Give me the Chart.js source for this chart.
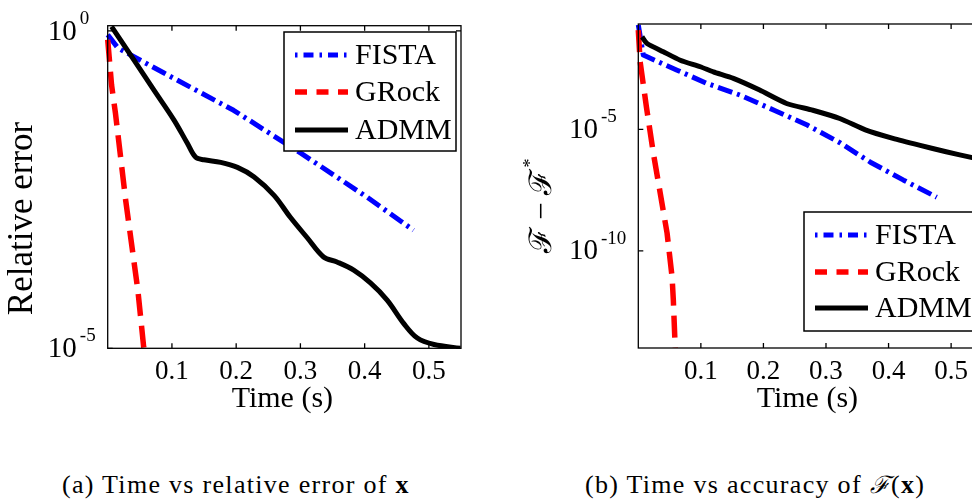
<!DOCTYPE html>
<html>
<head>
<meta charset="utf-8">
<script src="https://cdn.jsdelivr.net/npm/chart.js@4.4.0/dist/chart.umd.min.js"></script>
<style>
  html, body { margin: 0; padding: 0; background: #fff; width: 972px; height: 500px; overflow: hidden; position: relative; }
  #chartA { position: absolute; left: 0; top: 0; }
  #chartB { position: absolute; left: 500px; top: 0; }
  .cap { position: absolute; top: 470px; height: 30px; line-height: 30px; font: 26px 'Liberation Serif', 'DejaVu Serif', serif;
    letter-spacing: 1.3px; white-space: nowrap; color: #000; }
  .cap i { font-size: 24px; line-height: 30px; }
</style>
</head>
<body>
<canvas id="chartA" width="480" height="420"></canvas>
<canvas id="chartB" width="500" height="420"></canvas>
<div class="cap" style="left:62px">(a) Time vs relative error of <b>x</b></div>
<div class="cap" style="left:585px">(b) Time vs accuracy of <i>ℱ</i>(<b>x</b>)</div>
<script>
// series names + tick values
const seriesNames = ["FISTA", "GRock", "ADMM"];
const xTicks = [0.1, 0.2, 0.3, 0.4, 0.5];
const yTicksA = [1e0, 1e-5];
const yTicksB = [1e-5, 1e-10];

// (a) time vs relative error of x
const fistaTimeA = [0, 0.016, 0.087, 0.196, 0.30, 0.404, 0.476];
const fistaErrA = [0.871, 0.537, 0.219, 0.0562, 0.0120, 0.0024, 0.000724];
const grockTimeA = [0, 0.006, 0.012, 0.028, 0.047, 0.056, 0.062];
const grockErrA = [0.724, 0.141, 0.0513, 0.00214, 8.13e-5, 1.05e-5, 3.98e-6];
const admmTimeA = [0.006, 0.041, 0.072, 0.103, 0.124, 0.137, 0.150, 0.176, 0.202, 0.228, 0.259,
  0.284, 0.31, 0.336, 0.357, 0.383, 0.409, 0.435, 0.461, 0.482, 0.508, 0.549];
const admmErrA = [1.17, 0.347, 0.117, 0.0398, 0.0170, 0.0102, 0.00933, 0.00851, 0.00708, 0.00501, 0.00257,
  0.00117, 5.62e-4, 2.75e-4, 2.29e-4, 1.70e-4, 1.07e-4, 5.75e-5, 2.45e-5, 1.45e-5, 1.15e-5, 1.0e-5];

// (b) time vs accuracy of F(x)
const fistaTimeB = [0, 0.008, 0.062, 0.110, 0.163, 0.217, 0.270, 0.323, 0.371, 0.424, 0.477];
const fistaGapB = [0.2, 0.0115, 0.00275, 7.76e-4, 2.57e-4, 6.17e-5, 1.51e-5, 2.75e-6, 4.47e-7, 8.13e-8, 1.62e-8];
const grockTimeB = [0, 0.003, 0.013, 0.024, 0.035, 0.046, 0.054, 0.056, 0.0585, 0.06];
const grockGapB = [0.123, 5.89e-3, 8.32e-5, 1.07e-6, 2.40e-8, 5.37e-10, 8.32e-12, 9.33e-13, 2.09e-14, 3.16e-15];
const admmTimeB = [0.006, 0.014, 0.040, 0.067, 0.099, 0.120, 0.152, 0.194, 0.237, 0.279, 0.322,
  0.364, 0.407, 0.449, 0.492, 0.532, 0.55];
const admmGapB = [0.0646, 0.0347, 0.0158, 0.00708, 0.00380, 0.00234, 0.00126, 4.17e-4, 1.17e-4, 6.17e-5, 2.82e-5,
  9.33e-6, 4.27e-6, 2.24e-6, 1.20e-6, 7.08e-7, 5.62e-7];

const FONT = "'Liberation Serif', 'DejaVu Serif', serif";
const legendDash = [[2.5, 6, 10, 6], [12, 9.5], []];

const pairs = (xs, ys) => xs.map((x, i) => ({ x: x, y: ys[i] }));

function makeDatasets(sets, admmTension) {
  return [
    { label: seriesNames[0], data: pairs(sets[0][0], sets[0][1]), borderColor: "#0000ff", borderWidth: 5,
      borderDash: [15, 5, 3, 5], tension: 0, order: 2 },
    { label: seriesNames[1], data: pairs(sets[1][0], sets[1][1]), borderColor: "#ff0000", borderWidth: 5.5,
      borderDash: [22, 10], tension: 0, order: 1 },
    { label: seriesNames[2], data: pairs(sets[2][0], sets[2][1]), borderColor: "#000000", borderWidth: 5,
      tension: admmTension, order: 0 }
  ].map(d => Object.assign(d, { pointRadius: 0, fill: false, borderJoinStyle: "round",
    clip: { left: 5, right: 0, top: 0, bottom: 0 } }));
}

// frame, inward ticks, y labels, titles and the in-plot legend
const decor = {
  id: "decor",
  afterDatasetsDraw(chart, args, o) {
    const { ctx, chartArea: a } = chart;
    const x = chart.scales.x, y = chart.scales.y;
    ctx.save();
    ctx.setLineDash([]);
    ctx.strokeStyle = "#000";
    ctx.lineWidth = 1.3;
    ctx.strokeRect(a.left, a.top, a.right - a.left, a.bottom - a.top);
    ctx.beginPath();
    x.ticks.forEach(t => {
      const px = x.getPixelForValue(t.value);
      ctx.moveTo(px, a.bottom); ctx.lineTo(px, a.bottom - 5);
      ctx.moveTo(px, a.top); ctx.lineTo(px, a.top + 5);
    });
    y.ticks.forEach(t => {
      const py = y.getPixelForValue(t.value);
      ctx.moveTo(a.left, py); ctx.lineTo(a.left + 5, py);
      ctx.moveTo(a.right, py); ctx.lineTo(a.right - 5, py);
    });
    ctx.stroke();

    // y tick labels as 10^k
    ctx.fillStyle = "#000";
    ctx.textBaseline = "middle";
    ctx.textAlign = "left";
    const labs = y.ticks.map(t => ({ py: y.getPixelForValue(t.value), exp: String(Math.round(Math.log10(t.value))) }));
    ctx.font = "29px " + FONT;
    const baseW = ctx.measureText("10").width;
    ctx.font = "19px " + FONT;
    const maxExpW = Math.max(...labs.map(l => ctx.measureText(l.exp).width));
    const x0 = a.left - 12 - maxExpW - 3 - baseW;
    labs.forEach(l => {
      ctx.font = "29px " + FONT;
      ctx.fillText("10", x0, l.py + 1);
      ctx.font = "19px " + FONT;
      ctx.fillText(l.exp, x0 + baseW + 3, l.py - 12);
    });

    // x title
    ctx.font = "30px " + FONT;
    ctx.textAlign = "center";
    ctx.fillText("Time (s)", (a.left + a.right) / 2 + o.xTitleShift, 399);

    // y title
    ctx.save();
    ctx.translate(o.yTitle.x, o.yTitle.y);
    ctx.rotate(-Math.PI / 2);
    ctx.font = o.yTitle.size + "px " + FONT;
    if (o.yTitle.sup) {
      const w = ctx.measureText(o.yTitle.text).width;
      ctx.textAlign = "left";
      ctx.fillText(o.yTitle.text, -w / 2 - 5, 0);
      ctx.font = "18px " + FONT;
      ctx.fillText(o.yTitle.sup, w / 2 - 4, -12);
    } else {
      ctx.fillText(o.yTitle.text, 0, 0);
    }
    ctx.restore();

    // legend
    const L = o.legend;
    ctx.fillStyle = "#fff";
    ctx.fillRect(L.x, L.y, L.w, L.h);
    ctx.strokeStyle = "#000";
    ctx.lineWidth = 1.5;
    ctx.strokeRect(L.x, L.y, L.w, L.h);
    chart.data.datasets.forEach((ds, i) => {
      const ry = L.rows[i];
      ctx.strokeStyle = ds.borderColor;
      ctx.lineWidth = ds.borderWidth;
      ctx.setLineDash(legendDash[i]);
      ctx.beginPath();
      ctx.moveTo(L.x + 11, ry);
      ctx.lineTo(L.x + 64, ry);
      ctx.stroke();
      ctx.setLineDash([]);
      ctx.fillStyle = "#000";
      ctx.font = "30px " + FONT;
      ctx.textAlign = "left";
      ctx.fillText(ds.label, L.x + 71, ry + 1);
    });
    ctx.restore();
  }
};

function makeChart(id, datasets, cfg) {
  return new Chart(document.getElementById(id), {
    type: "line",
    data: { datasets: datasets },
    options: {
      responsive: false,
      animation: false,
      devicePixelRatio: 1,
      layout: { padding: { left: 0, top: cfg.top, right: cfg.right, bottom: 0 } },
      scales: {
        x: {
          type: "linear", min: 0, max: 0.55,
          afterBuildTicks: s => { s.ticks = xTicks.map(v => ({ value: v })); },
          afterFit: s => { s.height = cfg.xHeight; },
          ticks: { color: "#000", font: { family: FONT, size: 27 }, padding: 7.5, maxRotation: 0,
            autoSkip: false, callback: v => v.toFixed(1) },
          grid: { display: false, drawTicks: false },
          border: { display: false }
        },
        y: {
          type: "logarithmic", min: cfg.yMin, max: cfg.yMax,
          afterBuildTicks: s => { s.ticks = cfg.yTicks.map(v => ({ value: v })); },
          afterFit: s => { s.width = cfg.yWidth; },
          ticks: { display: false },
          grid: { display: false, drawTicks: false },
          border: { display: false }
        }
      },
      plugins: {
        legend: { display: false },
        tooltip: { enabled: false },
        decor: cfg.decor
      }
    },
    plugins: [decor]
  });
}

makeChart("chartA", makeDatasets([[fistaTimeA, fistaErrA], [grockTimeA, grockErrA], [admmTimeA, admmErrA]], 0.35), {
  top: 25.7, right: 19, xHeight: 71.7, yWidth: 107.7, yMin: 1e-5, yMax: 1.21, yTicks: yTicksA,
  decor: {
    xTitleShift: -2,
    yTitle: { x: 22.5, y: 218.5, size: 35, text: "Relative error" },
    legend: { x: 284, y: 32, w: 172, h: 119, rows: [55, 92, 130] }
  }
});

makeChart("chartB", makeDatasets([[fistaTimeB, fistaGapB], [grockTimeB, grockGapB], [admmTimeB, admmGapB]], 0.2), {
  top: 24, right: 17.6, xHeight: 72, yWidth: 138.3, yMin: 1e-14, yMax: 0.219, yTicks: yTicksB,
  decor: {
    xTitleShift: -3,
    yTitle: { x: 43, y: 206, size: 31, text: "ℱ − ℱ", sup: "*" },
    legend: { x: 304, y: 212, w: 200, h: 119, rows: [235, 272, 308] }
  }
});
</script>
</body>
</html>
